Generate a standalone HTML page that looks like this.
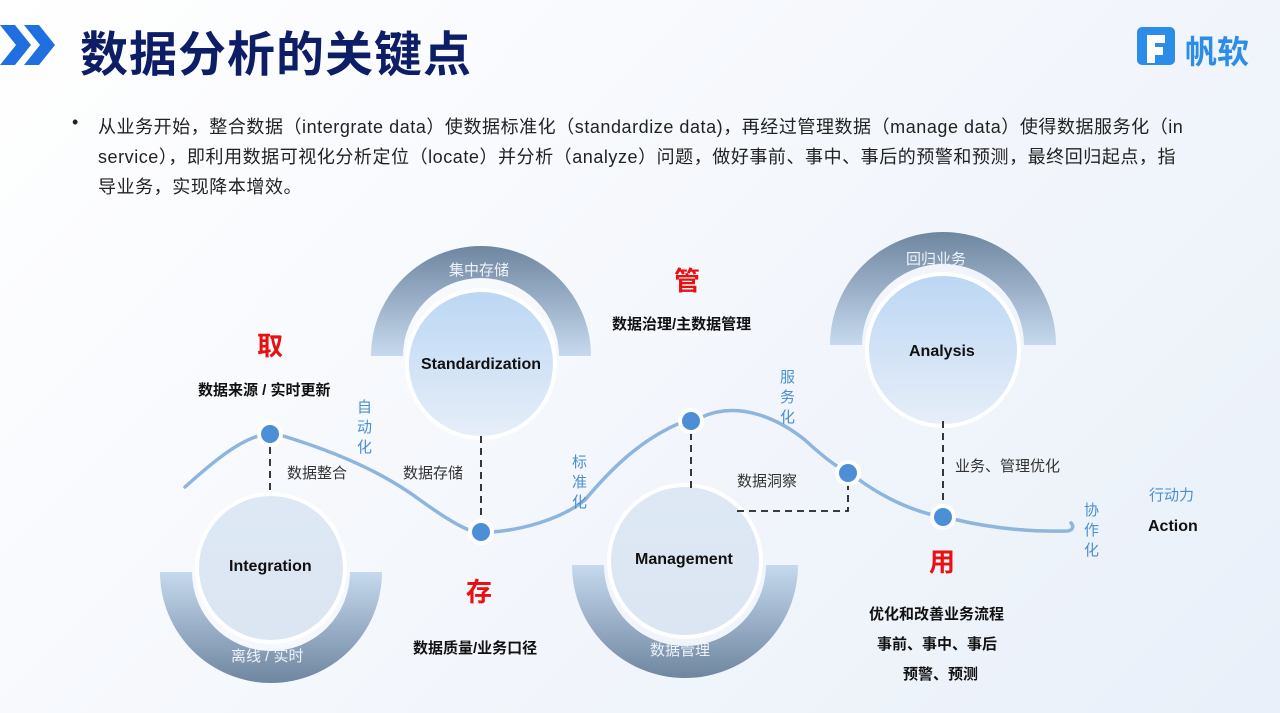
<!DOCTYPE html>
<html><head><meta charset="utf-8"><style>
html,body{margin:0;padding:0;}
body{width:1280px;height:713px;overflow:hidden;background:linear-gradient(135deg,#ffffff 0%,#f4f7fc 50%,#e9f0f9 100%);font-family:"Liberation Sans","Noto Sans CJK SC",sans-serif;position:relative;}
.t{position:absolute;white-space:nowrap;}
</style></head><body>
<svg width="1280" height="713" style="position:absolute;left:0;top:0" xmlns="http://www.w3.org/2000/svg">
<defs>
<linearGradient id="ru" x1="0" y1="0" x2="0" y2="1"><stop offset="0" stop-color="#6f86a0"/><stop offset="1" stop-color="#c6d9ee"/></linearGradient>
<linearGradient id="rd" x1="0" y1="0" x2="0" y2="1"><stop offset="0" stop-color="#c6d9ee"/><stop offset="1" stop-color="#6f86a0"/></linearGradient>
<linearGradient id="cu" x1="0" y1="0" x2="0" y2="1"><stop offset="0" stop-color="#bcd7f4"/><stop offset="1" stop-color="#e6eef8"/></linearGradient>
<linearGradient id="cd" x1="0" y1="0" x2="0" y2="1"><stop offset="0" stop-color="#dde8f4"/><stop offset="1" stop-color="#dbe6f2"/></linearGradient>
</defs>
<path d="M0 25 L15 25 L31 45 L15 65 L0 65 L16 45Z" fill="#1f6fe0"/>
<path d="M24 25 L39 25 L55 45 L39 65 L24 65 L40 45Z" fill="#1f6fe0"/>
<rect x="1137" y="27" width="38" height="38" rx="5" fill="#2c8de8"/>
<path d="M1147 35 h18 v8 h-10 v4 h8 v8 h-8 v8 h-8z" fill="#fff"/>
<path d="M160 572 A111 111 0 0 0 382 572 L350 572 A79 79 0 0 1 192 572Z" fill="url(#rd)"/>
<path d="M371 356 A110 110 0 0 1 591 356 L559 356 A78 78 0 0 0 403 356Z" fill="url(#ru)"/>
<path d="M572 565 A113 113 0 0 0 798 565 L766 565 A81 81 0 0 1 604 565Z" fill="url(#rd)"/>
<path d="M830 345 A113 113 0 0 1 1056 345 L1024 345 A81 81 0 0 0 862 345Z" fill="url(#ru)"/>
<circle cx="271" cy="568" r="76" fill="#fff"/><circle cx="271" cy="568" r="72" fill="url(#cd)"/>
<circle cx="481" cy="364" r="76" fill="#fff"/><circle cx="481" cy="364" r="72" fill="url(#cu)"/>
<circle cx="685" cy="561" r="78" fill="#fff"/><circle cx="685" cy="561" r="74" fill="url(#cd)"/>
<circle cx="943" cy="350" r="78" fill="#fff"/><circle cx="943" cy="350" r="74" fill="url(#cu)"/>
<path d="M185 487 C215 460 240 440 262 435 M280 435 C330 450 380 470 420 500 C445 518 462 528 472 531 M492 532 C520 530 560 520 585 500 C610 470 640 440 680 423 M702 417 C740 400 780 420 805 440 C818 452 830 462 840 468 M858 479 C880 495 905 508 933 515 M953 519 C990 528 1030 532 1068 531 C1073 530 1074 526 1071 523" fill="none" stroke="#8db5de" stroke-width="3.5" stroke-linecap="round"/>
<g stroke="#222" stroke-width="1.8" stroke-dasharray="7,5" fill="none">
<path d="M270 447 V493"/><path d="M481 436 V520"/><path d="M691 433 V490"/><path d="M943 421 V503"/><path d="M848 483 V511 H737"/>
</g>
<g fill="#fff"><circle cx="270" cy="434" r="13"/><circle cx="481" cy="532" r="13"/><circle cx="691" cy="421" r="13"/><circle cx="848" cy="473" r="13"/><circle cx="943" cy="517" r="13"/></g>
<g fill="#4d8fd6"><circle cx="270" cy="434" r="9"/><circle cx="481" cy="532" r="9"/><circle cx="691" cy="421" r="9"/><circle cx="848" cy="473" r="9"/><circle cx="943" cy="517" r="9"/></g>
</svg>
<div class="t" style="left:80px;top:15px;font-size:48px;font-weight:bold;color:#0d1d66;letter-spacing:1px;">数据分析的关键点</div>
<div class="t" style="left:1185px;top:27px;font-size:32px;font-weight:bold;color:#2c8de8;">帆软</div>
<div class="t" style="left:72px;top:112px;font-size:18px;color:#222;">•</div>
<div class="t" style="left:98px;top:112px;font-size:18px;color:#222;line-height:30px;letter-spacing:0.55px;">从业务开始，整合数据（intergrate data）使数据标准化（standardize data)，再经过管理数据（manage data）使得数据服务化（in<br>service），即利用数据可视化分析定位（locate）并分析（analyze）问题，做好事前、事中、事后的预警和预测，最终回归起点，指<br>导业务，实现降本增效。</div>
<div class="t" style="left:257px;top:326px;font-size:26px;font-weight:bold;color:#e81010;">取</div>
<div class="t" style="left:198px;top:379px;font-size:15px;font-weight:bold;color:#111;">数据来源 / 实时更新</div>
<div class="t" style="left:357px;top:398px;font-size:15px;color:#4a8fd0;line-height:20px;width:16px;white-space:normal;">自动化</div>
<div class="t" style="left:287px;top:462px;font-size:15px;color:#333;">数据整合</div>
<div class="t" style="left:403px;top:462px;font-size:15px;color:#333;">数据存储</div>
<div class="t" style="left:572px;top:453px;font-size:15px;color:#4a8fd0;line-height:20px;width:16px;white-space:normal;">标准化</div>
<div class="t" style="left:466px;top:572px;font-size:26px;font-weight:bold;color:#e81010;">存</div>
<div class="t" style="left:413px;top:637px;font-size:15px;font-weight:bold;color:#111;">数据质量/业务口径</div>
<div class="t" style="left:231px;top:645px;font-size:15px;color:#eef3f9;">离线 / 实时</div>
<div class="t" style="left:229px;top:558px;font-size:16px;font-weight:bold;color:#111;">Integration</div>
<div class="t" style="left:449px;top:259px;font-size:15px;color:#eef3f9;">集中存储</div>
<div class="t" style="left:421px;top:356px;font-size:16px;font-weight:bold;color:#111;">Standardization</div>
<div class="t" style="left:674px;top:261px;font-size:26px;font-weight:bold;color:#e81010;">管</div>
<div class="t" style="left:612px;top:313px;font-size:15px;font-weight:bold;color:#111;">数据治理/主数据管理</div>
<div class="t" style="left:780px;top:368px;font-size:15px;color:#4a8fd0;line-height:20px;width:16px;white-space:normal;">服务化</div>
<div class="t" style="left:737px;top:470px;font-size:15px;color:#333;">数据洞察</div>
<div class="t" style="left:635px;top:551px;font-size:16px;font-weight:bold;color:#111;">Management</div>
<div class="t" style="left:650px;top:639px;font-size:15px;color:#eef3f9;">数据管理</div>
<div class="t" style="left:906px;top:248px;font-size:15px;color:#eef3f9;">回归业务</div>
<div class="t" style="left:909px;top:343px;font-size:16px;font-weight:bold;color:#111;">Analysis</div>
<div class="t" style="left:955px;top:455px;font-size:15px;color:#333;">业务、管理优化</div>
<div class="t" style="left:929px;top:542px;font-size:26px;font-weight:bold;color:#e81010;">用</div>
<div class="t" style="left:869px;top:603px;font-size:15px;font-weight:bold;color:#111;">优化和改善业务流程</div>
<div class="t" style="left:877px;top:633px;font-size:15px;font-weight:bold;color:#111;">事前、事中、事后</div>
<div class="t" style="left:903px;top:663px;font-size:15px;font-weight:bold;color:#111;">预警、预测</div>
<div class="t" style="left:1084px;top:501px;font-size:15px;color:#4a8fd0;line-height:20px;width:16px;white-space:normal;">协作化</div>
<div class="t" style="left:1149px;top:484px;font-size:15px;color:#4a8fd0;">行动力</div>
<div class="t" style="left:1148px;top:518px;font-size:16px;font-weight:bold;color:#111;">Action</div>
</body></html>
